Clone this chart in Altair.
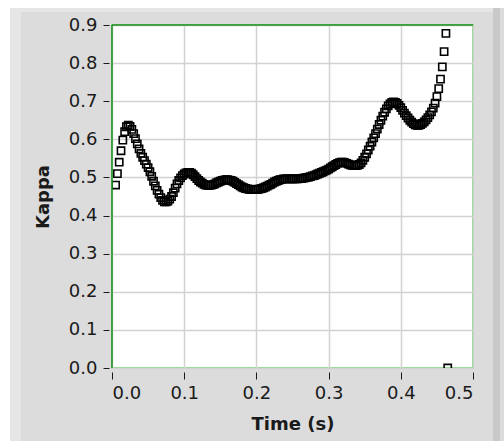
import altair as alt
import pandas as pd

# Samples of Kappa (uniform time grid)
t_start = 0.005
dt = 0.0025
kappa = [
    0.48, 0.51, 0.54, 0.57, 0.598, 0.62, 0.633, 0.637, 0.634, 0.626,
    0.615, 0.602, 0.588, 0.575, 0.563, 0.553, 0.544, 0.535, 0.526, 0.515,
    0.503, 0.49, 0.478, 0.466, 0.456, 0.447, 0.44, 0.436, 0.436, 0.438,
    0.443, 0.45, 0.46, 0.472, 0.483, 0.492, 0.499, 0.505, 0.509, 0.512,
    0.513, 0.513, 0.511, 0.507, 0.502, 0.497, 0.492, 0.488, 0.485, 0.482,
    0.48, 0.479, 0.479, 0.48, 0.481, 0.483, 0.486, 0.488, 0.49, 0.492,
    0.493, 0.494, 0.494, 0.493, 0.492, 0.49, 0.487, 0.484, 0.481, 0.478,
    0.475, 0.473, 0.471, 0.47, 0.469, 0.468, 0.468, 0.468, 0.468, 0.469,
    0.47, 0.471, 0.473, 0.475, 0.477, 0.48, 0.482, 0.485, 0.488, 0.49,
    0.492, 0.494, 0.495, 0.496, 0.496, 0.496, 0.496, 0.496, 0.496, 0.496,
    0.496, 0.496, 0.497, 0.497, 0.498, 0.499, 0.5, 0.501, 0.502, 0.504,
    0.505, 0.507, 0.509, 0.511, 0.513, 0.515, 0.517, 0.519, 0.522, 0.525,
    0.528, 0.531, 0.534, 0.537, 0.539, 0.54, 0.54, 0.539, 0.537, 0.535,
    0.533, 0.532, 0.531, 0.531, 0.532, 0.534, 0.538, 0.545, 0.553, 0.562,
    0.572, 0.582, 0.593, 0.604, 0.615, 0.627, 0.639, 0.65, 0.661, 0.671,
    0.68, 0.688, 0.693, 0.697, 0.698, 0.697, 0.694, 0.689, 0.683, 0.676,
    0.669, 0.662, 0.656, 0.65, 0.645, 0.641, 0.638, 0.637, 0.637, 0.639,
    0.642, 0.646, 0.651, 0.657, 0.664, 0.672, 0.682, 0.695, 0.712, 0.733,
    0.758, 0.79, 0.83, 0.878,
]
# final sample drops to zero
last_time = [0.465]
last_kappa = [0.0]

time = [round(t_start + i * dt, 5) for i in range(len(kappa))] + last_time
kappa_all = kappa + last_kappa

x_ticks = [0.0, 0.1, 0.2, 0.3, 0.4, 0.5]
y_ticks = [0.0, 0.1, 0.2, 0.3, 0.4, 0.5, 0.6, 0.7, 0.8, 0.9]

df = pd.DataFrame({"t": time, "k": kappa_all})
one = pd.DataFrame({"a": [0]})

FONT = "DejaVu Sans"
TXT = "#1a1a1a"
GRID = "#d2d2d2"

x_scale = alt.Scale(domain=[0, 0.5], nice=False, zero=False)
y_scale = alt.Scale(domain=[0, 0.9], nice=False, zero=False)

x_axis = alt.Axis(
    values=x_ticks, format=".1f", grid=True, gridColor=GRID, gridWidth=1.5,
    domain=False, tickSize=7, tickColor=TXT, tickWidth=1, offset=4,
    labelPadding=5, labelFont=FONT, labelFontSize=18, labelColor=TXT,
    labelOverlap=False,
    title="Time (s)", titleFont=FONT, titleFontSize=18, titleFontWeight="bold",
    titleColor=TXT, titleX=180.5, titleY=52, titleAlign="center",
    titleBaseline="middle",
)
y_axis = alt.Axis(
    values=y_ticks, format=".1f", grid=True, gridColor=GRID, gridWidth=1.5,
    domain=False, tickSize=6, tickColor=TXT, tickWidth=1, offset=3,
    labelPadding=6, labelFont=FONT, labelFontSize=18, labelColor=TXT,
    labelOverlap=False,
    title="Kappa", titleFont=FONT, titleFontSize=18, titleFontWeight="bold",
    titleColor=TXT, titleX=-66, titleY=171.5, titleAlign="center",
    titleBaseline="middle", titleAngle=270,
)

# decorative panel edges (white page margin, light/dark bevel strips)
frame_left = alt.Chart(one).mark_rect(color="#ffffff", clip=False).encode(
    x=alt.value(-112), x2=alt.value(-102), y=alt.value(-25), y2=alt.value(416)
)
frame_top = alt.Chart(one).mark_rect(color="#ffffff", clip=False).encode(
    x=alt.value(-112), x2=alt.value(392), y=alt.value(-25), y2=alt.value(-17)
)
bevel_left = alt.Chart(one).mark_rect(color="#e6e6e6", clip=False).encode(
    x=alt.value(-102), x2=alt.value(-91), y=alt.value(-17), y2=alt.value(416)
)
bevel_top = alt.Chart(one).mark_rect(color="#e6e6e6", clip=False).encode(
    x=alt.value(-102), x2=alt.value(381), y=alt.value(-17), y2=alt.value(-13)
)
bevel_right = alt.Chart(one).mark_rect(color="#c9c9c9", clip=False).encode(
    x=alt.value(381), x2=alt.value(388), y=alt.value(-17), y2=alt.value(416)
)

points = alt.Chart(df).mark_point(
    shape="square", filled=False, size=52, stroke="#000000", strokeWidth=1.6,
    opacity=1, clip=True,
).encode(
    x=alt.X("t:Q", scale=x_scale, axis=x_axis),
    y=alt.Y("k:Q", scale=y_scale, axis=y_axis),
)

left_border = alt.Chart(one).mark_rule(color="#1f8f1f", strokeWidth=1.5).encode(
    x=alt.X(datum=0.0, scale=x_scale, axis=x_axis)
)
top_border = alt.Chart(one).mark_rule(color="#1f8f1f", strokeWidth=1.5).encode(
    y=alt.Y(datum=0.9, scale=y_scale, axis=y_axis)
)

chart = (
    alt.layer(frame_left, frame_top, bevel_left, bevel_top, bevel_right,
              points, left_border, top_border)
    .properties(
        width=361,
        height=343,
        padding={"left": 112, "top": 25, "right": 31, "bottom": 73},
        autosize=alt.AutoSizeParams(type="none"),
        background="#dcdcdc",
    )
    .configure_view(fill="#ffffff", stroke="#66d466", strokeWidth=1.5)
)

chart.save("out.html", embed_options={"renderer": "svg", "actions": False})
